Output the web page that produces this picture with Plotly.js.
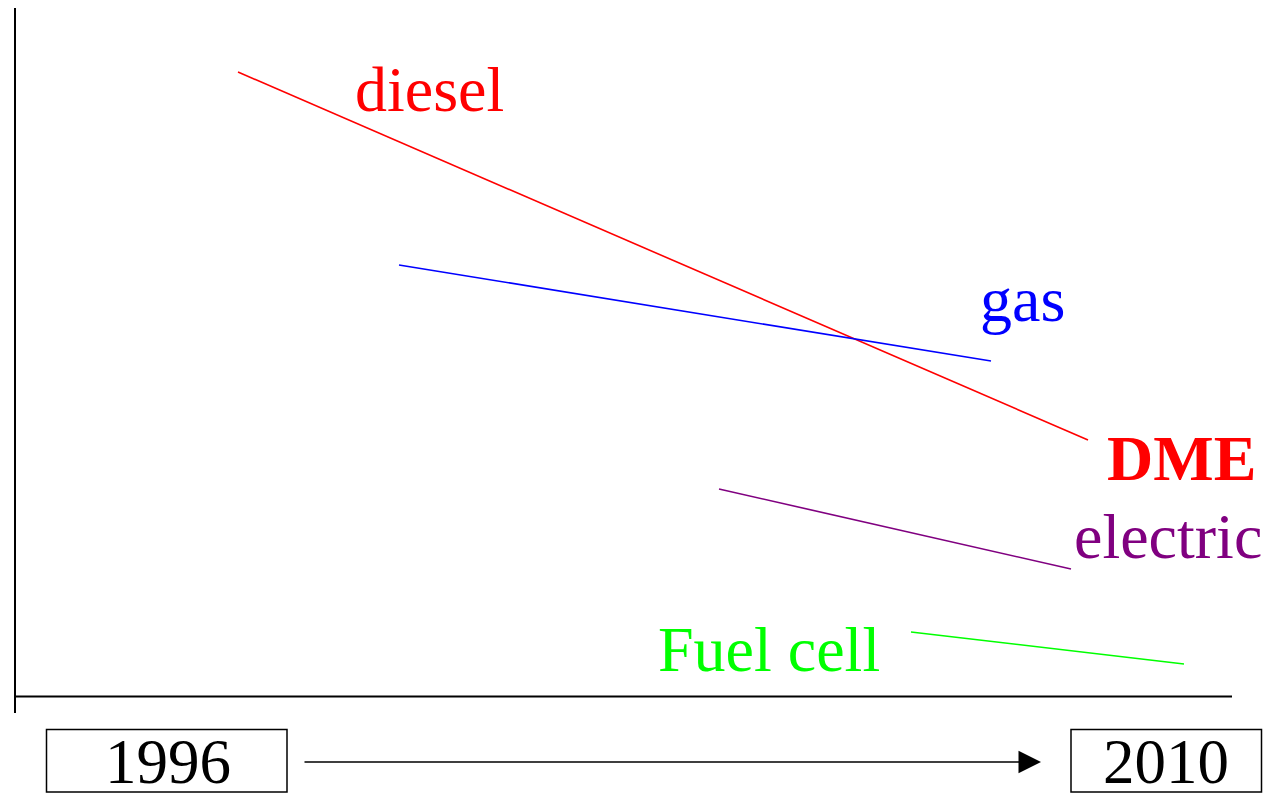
<!DOCTYPE html>
<html>
<head>
<meta charset="utf-8">
<script src="https://cdn.plot.ly/plotly-3.0.1.min.js"></script>
<style>html,body{margin:0;padding:0;background:#fff;}#chart{width:1268px;height:793px;}</style>
</head>
<body>
<div id="chart"></div>
<script>
// Series (schematic position units, x: left-to-right, y: top-to-bottom)
var seriesNames = ["diesel", "gas", "electric", "Fuel cell"];
var dieselX = [238, 1088];
var dieselY = [72, 440];
var gasX = [399, 991];
var gasY = [265, 361];
var electricX = [719, 1071];
var electricY = [489, 569];
var fuelX = [911, 1184];
var fuelY = [632, 664];
var startYear = "1996";
var endYear = "2010";
var dmeLabel = "DME";

var font = "Liberation Serif, Times New Roman, serif";
function tr(x, y, c) {
  return {x: x, y: y, mode: "lines", type: "scatter", line: {color: c, width: 1.6}, hoverinfo: "skip", showlegend: false};
}
var data = [
  tr(dieselX, dieselY, "#ff0000"),
  tr(gasX, gasY, "#0000ff"),
  tr(electricX, electricY, "#800080"),
  tr(fuelX, fuelY, "#00ff00")
];
function ann(text, x, y, color, xanchor, bold, size) {
  return {text: bold ? "<b>" + text + "</b>" : text, x: x, y: y, xref: "x", yref: "y", showarrow: false,
    xanchor: xanchor || "left", yanchor: "middle", font: {family: font, size: size || 64, color: color}};
}
var y1 = ann(startYear, 168, 762, "#000", "center", false, 63);
var y2 = ann(endYear, 1166, 762, "#000", "center", false, 63);
y1.height = 58; y2.height = 58;
var layout = {
  width: 1268, height: 793,
  margin: {l: 0, r: 0, t: 0, b: 0},
  paper_bgcolor: "#fff", plot_bgcolor: "#fff",
  xaxis: {range: [0, 1268], visible: false, fixedrange: true},
  yaxis: {range: [793, 0], visible: false, fixedrange: true},
  shapes: [
    {type: "line", xref: "x", yref: "y", x0: 15, x1: 15, y0: 8, y1: 713, line: {color: "#000", width: 2}},
    {type: "line", xref: "x", yref: "y", x0: 15, x1: 1232, y0: 696.5, y1: 696.5, line: {color: "#000", width: 2}},
    {type: "rect", xref: "x", yref: "y", x0: 46.5, x1: 287, y0: 729.5, y1: 792, line: {color: "#000", width: 1.5}},
    {type: "rect", xref: "x", yref: "y", x0: 1071, x1: 1261.5, y0: 729.5, y1: 792, line: {color: "#000", width: 1.5}}
  ],
  annotations: [
    ann(seriesNames[0], 353, 89, "#ff0000"),
    ann(seriesNames[1], 978, 299, "#0000ff"),
    ann(dmeLabel, 1105, 458, "#ff0000", "left", true),
    ann(seriesNames[2], 1072, 536, "#800080"),
    ann(seriesNames[3], 656, 649, "#00ff00"),
    y1, y2,
    {x: 1041, y: 762, ax: 303, ay: 762, xref: "x", yref: "y", axref: "x", ayref: "y", text: "", showarrow: true,
     arrowhead: 2, arrowsize: 3, arrowwidth: 1.5, arrowcolor: "#000"}
  ]
};
Plotly.newPlot("chart", data, layout, {staticPlot: true, displayModeBar: false});
</script>
</body>
</html>
